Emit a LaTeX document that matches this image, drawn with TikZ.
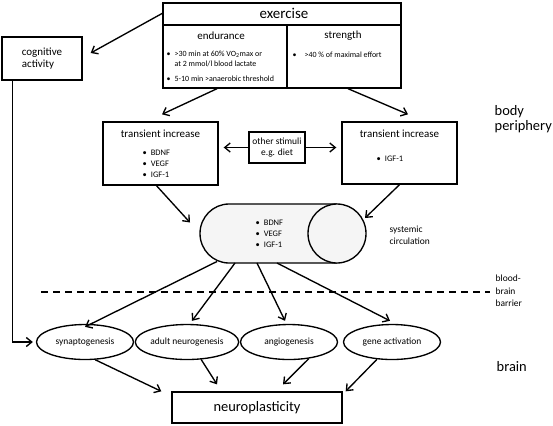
\documentclass[tikz,border=0pt]{standalone}
\usepackage{fontspec}
\setmainfont{Carlito}
\usetikzlibrary{arrows.meta,calc,shapes.geometric}
\begin{document}
\begin{tikzpicture}[x=1bp,y=-1bp,
  line width=1.35bp,
  box/.style={draw,rectangle,inner sep=0pt,line width=1.35bp},
  oval/.style={draw,ellipse,minimum width=97bp,minimum height=35bp,inner sep=0pt,font=\fontsize{9.5}{10}\selectfont},
  arr/.style={-{Straight Barb[length=5.5bp,width=9bp]}},
  lbl/.style={inner sep=0pt,anchor=west,align=left},
  small/.style={font=\fontsize{8.5}{11}\selectfont},
  mid/.style={font=\fontsize{11}{12}\selectfont},
  big/.style={font=\fontsize{14.5}{15}\selectfont},
]
\useasboundingbox (0,0) rectangle (553,425);

% exercise box
\node[box,minimum width=238bp,minimum height=85bp] (ex) at (282,45.5) {};
\draw (163,25) -- (401,25);
\draw (287,25) -- (287,88);
\node[inner sep=0pt,font=\fontsize{15}{16}\selectfont] (exT) at (284,13) {exercise};
\node[mid,inner sep=0pt] (endT) at (221,36) {endurance};
\node[mid,inner sep=0pt] (strT) at (343,36) {strength};
\node[lbl,anchor=north west,font=\fontsize{8}{10}\selectfont] (b1) at (166,50) {\textbullet\hspace{4bp}>30 min at 60\% VO\textsubscript{2}max or\\\hphantom{\textbullet\hspace{4bp}}at 2 mmol/l blood lactate};
\node[lbl,font=\fontsize{8}{10}\selectfont] (b2) at (166,79) {\textbullet\hspace{4bp}5-10 min >anaerobic threshold};
\node[lbl,font=\fontsize{8}{10}\selectfont] (b3) at (292,55) {\textbullet\hspace{8bp}>40 \% of maximal effort};

% cognitive activity
\node[box,minimum width=80bp,minimum height=43bp,mid,align=left] (cog) at (42,58.5) {cognitive\\activity};

% transient increase boxes
\node[box,minimum width=115bp,minimum height=63bp] (tl) at (160.5,153.5) {};
\node[mid,inner sep=0pt] (tlT) at (160.5,134) {transient increase};
\node[lbl,small] (tlB) at (142,164) {\textbullet\hspace{4bp}BDNF\\\textbullet\hspace{4bp}VEGF\\\textbullet\hspace{4bp}IGF-1};

\node[box,minimum width=115bp,minimum height=62bp] (tr) at (399.5,153) {};
\node[mid,inner sep=0pt] (trT) at (399.5,134) {transient increase};
\node[lbl,small] (trB) at (376,159) {\textbullet\hspace{4bp}IGF-1};

% other stimuli
\node[box,minimum width=56bp,minimum height=31bp,align=center,font=\fontsize{9.5}{12}\selectfont] (os) at (277,147.5) {other stimuli\\e.g. diet};

% cylinder
\coordinate (cyl) at (283,233.5);
\draw[fill=gray!8] (337,204) -- (229,204) arc (90:270:29bp and 29.5bp) -- (337,263);
\draw[fill=gray!8] (337,233.5) ellipse [x radius=29bp, y radius=29.5bp];
\node[lbl,small] (cyB) at (255,233.5) {\textbullet\hspace{4bp}BDNF\\\textbullet\hspace{4bp}VEGF\\\textbullet\hspace{4bp}IGF-1};

% side labels
\node[lbl,big] (bp) at (494,119) {body\\periphery};
\node[lbl,font=\fontsize{9.5}{12}\selectfont] (sc) at (389,235) {systemic\\circulation};
\node[lbl,font=\fontsize{9.5}{12.5}\selectfont] (bbb) at (495,291) {blood-\\brain\\barrier};
\node[lbl,big] (br) at (496,367) {brain};

% blood-brain barrier
\draw[dash pattern=on 7bp off 5bp] (41,292) -- (490,292);

% brain ellipses
\node[oval] (syn) at (85,342) {synaptogenesis};
\node[oval] (adu) at (187,342) {adult neurogenesis};
\node[oval] (ang) at (289,342) {angiogenesis};
\node[oval] (gen) at (392,342) {gene activation};

% neuroplasticity
\node[box,minimum width=170bp,minimum height=31bp,big] (np) at (257,407.5) {neuroplasticity};

% connectors
\draw[arr] ($(ex.north west)+(0,11)$) -- ($(cog.east)+(8,-5.5)$);
\draw[arr] ($(ex.south)+(-65,0)$) -- ($(tl.north)+(1.5,-7)$);
\draw[arr] ($(ex.south)+(66,0)$) -- ($(tr.north)+(8.5,-7)$);
\draw[arr] (os.west) -- ($(os.west -| tl.east)+(5,0)$);
\draw[arr] (os.east) -- ($(os.east -| tr.west)+(-5,0)$);
\draw[arr] ($(tl.south)+(-4,0)$) -- ($(cyl)+(-93,-11)$);
\draw[arr] (tr.south) -- ($(cyl)+(82,-15.5)$);
\draw[arr] ($(cyl)+(-66,28)$) -- ([yshift=-3bp]syn.north);
\draw[arr] ($(cyl)+(-48,29.5)$) -- ([xshift=5bp,yshift=3bp]adu.north);
\draw[arr] ($(cyl)+(-26,29.5)$) -- ([xshift=-4bp,yshift=3bp]ang.north);
\draw[arr] ($(cyl)+(-6,29.5)$) -- ([xshift=-2bp,yshift=3bp]gen.north);
\draw[arr] ($(cog.south west)+(11.5,0)$) |- ([xshift=-3bp]syn.west);
\draw[arr] (syn.-60) -- ($(np.north west)+(-10,0)$);
\draw[arr] (adu.-51) -- ($(np.north)+(-40,-7)$);
\draw[arr] (ang.-40) -- ($(np.north)+(26,-7)$);
\draw[arr] (gen.-131) -- ($(np.north east)+(3,0)$);
\end{tikzpicture}
\end{document}
